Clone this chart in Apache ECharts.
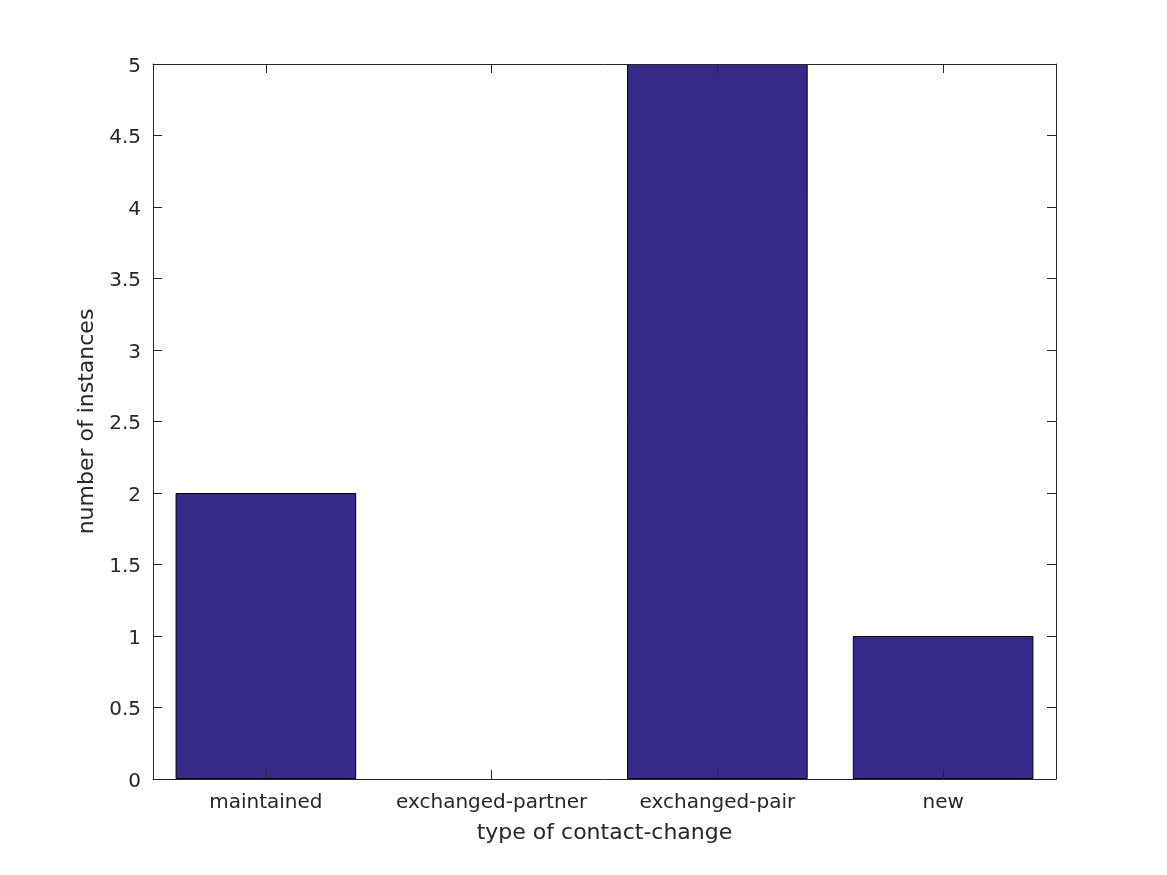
<!DOCTYPE html>
<html>
<head>
<meta charset="utf-8">
<script src="https://cdn.jsdelivr.net/npm/echarts@6/dist/echarts.min.js"></script>
<style>
html,body{margin:0;padding:0;background:#fff;}
#chart{width:1167px;height:875px;}
</style>
</head>
<body>
<div id="chart"></div>
<script>
const categories = ['maintained', 'exchanged-partner', 'exchanged-pair', 'new'];
const counts = [2, 0, 5, 1];
const yTicks = [0, 0.5, 1, 1.5, 2, 2.5, 3, 3.5, 4, 4.5, 5];

const FONT = 'DejaVu Sans';
const INK = '#262626';
const chart = echarts.init(document.getElementById('chart'), null, {renderer: 'canvas'});

const axisLine = {show: true, onZero: false, lineStyle: {color: INK, width: 1}};
const tick = {show: true, inside: true, length: 9, lineStyle: {color: INK, width: 1}};

chart.setOption({
  animation: false,
  backgroundColor: '#ffffff',
  grid: {left: 153, right: 111, top: 64, bottom: 96, containLabel: false},
  xAxis: [
    {
      type: 'category', data: categories, position: 'bottom', z: 10,
      boundaryGap: true,
      axisLine: axisLine,
      axisTick: Object.assign({alignWithLabel: true}, tick),
      axisLabel: {color: INK, fontFamily: FONT, fontSize: 20, margin: 14, interval: 0},
      name: 'type of contact-change', nameLocation: 'middle', nameGap: 43,
      nameTextStyle: {color: INK, fontFamily: FONT, fontSize: 22},
      splitLine: {show: false}
    },
    {
      type: 'category', data: categories, position: 'top', z: 10,
      boundaryGap: true,
      axisLine: axisLine,
      axisTick: Object.assign({alignWithLabel: true}, tick),
      axisLabel: {show: false},
      splitLine: {show: false}
    }
  ],
  yAxis: [
    {
      type: 'value', position: 'left', min: yTicks[0], max: yTicks[yTicks.length - 1], interval: 0.5, z: 10,
      axisLine: axisLine,
      axisTick: tick,
      axisLabel: {color: INK, fontFamily: FONT, fontSize: 20, margin: 12,
        formatter: v => '{a|' + String(v) + '}',
        rich: {a: {color: INK, fontFamily: FONT, fontSize: 20, padding: [5, 0, 0, 0]}}},
      name: 'number of instances', nameLocation: 'middle', nameGap: 48,
      nameTextStyle: {color: INK, fontFamily: FONT, fontSize: 22},
      splitLine: {show: false}
    },
    {
      type: 'value', position: 'right', min: yTicks[0], max: yTicks[yTicks.length - 1], interval: 0.5, z: 10,
      axisLine: axisLine,
      axisTick: tick,
      axisLabel: {show: false},
      splitLine: {show: false}
    }
  ],
  series: [{
    type: 'bar',
    xAxisIndex: 0, yAxisIndex: 0,
    data: counts.map(v => ({value: v, itemStyle: {borderWidth: v === 0 ? 0 : 1}})),
    barWidth: '80%',
    itemStyle: {color: '#352a87', borderColor: '#000000', borderWidth: 1},
    z: 2
  }]
});
</script>
</body>
</html>
